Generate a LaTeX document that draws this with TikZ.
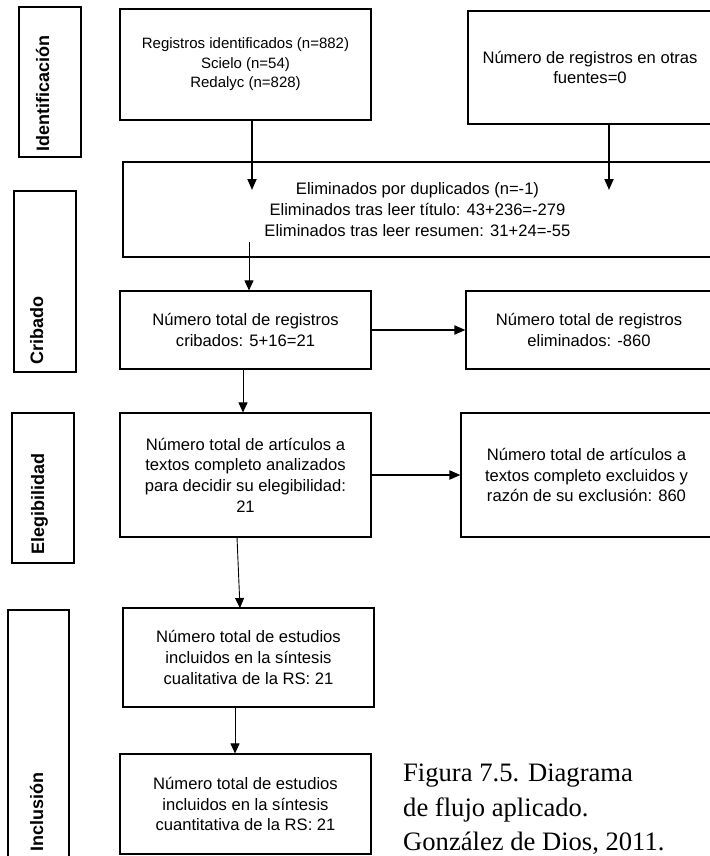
\documentclass[tikz,border=0pt]{standalone}
\usepackage{fontspec}
\setmainfont{Liberation Sans}
\newfontfamily\capfont{Liberation Serif}
\usetikzlibrary{arrows.meta}

\tikzset{
  box/.style={draw, line width=1.1pt, inner sep=0pt, align=center,
    font=\fontsize{16.6}{20.7}\selectfont},
  stagebox/.style={draw, line width=1.1pt, inner sep=0pt},
  stagelbl/.style={rotate=90, anchor=base west, inner sep=0pt,
    font=\fontsize{18}{20}\selectfont\bfseries},
  fatarrow/.style={line width=1.8pt, -{Triangle[length=11pt,width=9pt]}},
  slimarrow/.style={line width=0.9pt, -{Triangle[length=10pt,width=9pt]}},
  capline/.style={anchor=base west, inner sep=0pt,
    font=\capfont\fontsize{26.6}{35}\selectfont},
}

\begin{document}
\begin{tikzpicture}[x=1pt, y=-1pt]
\useasboundingbox (0,0) rectangle (709,856);

% stage boxes on the left
\node[stagebox, minimum width=62, minimum height=150] (sIdent) at (50,82) {};
\node[stagebox, minimum width=62, minimum height=181] (sCrib) at (45,281.5) {};
\node[stagebox, minimum width=62, minimum height=150] (sEleg) at (43,488) {};
\node[stagebox, minimum width=61, minimum height=260] (sIncl) at (38.5,740) {};
\node[stagelbl] (lIdent) at (49,152) {Identificación};
\node[stagelbl] (lCrib) at (43,365) {Cribado};
\node[stagelbl] (lEleg) at (44,555) {Elegibilidad};
\node[stagelbl] (lIncl) at (43,852) {Inclusión};

% flow boxes
\node[box, minimum width=251, minimum height=111,
  font=\fontsize{15}{19.5}\selectfont] (regs) at (245.5,64.5)
  {Registros identificados (n=882)\\ Scielo (n=54)\\ Redalyc (n=828)};
\node[box, minimum width=244, minimum height=113] (otras) at (590,67.5)
  {Número de registros en otras\\ fuentes=0};
\node[box, minimum width=589, minimum height=95] (elim) at (417.5,209.5)
  {Eliminados por duplicados (n=-1)\\ Eliminados tras leer título: 43+236=-279\\
   Eliminados tras leer resumen: 31+24=-55};
\node[box, minimum width=251, minimum height=78] (crib) at (245.5,330)
  {Número total de registros\\ cribados: 5+16=21};
\node[box, minimum width=246, minimum height=78] (quit) at (589,330)
  {Número total de registros\\ eliminados: -860};
\node[box, minimum width=251, minimum height=124] (eleg) at (245.5,475)
  {Número total de artículos a\\ textos completo analizados\\
   para decidir su elegibilidad:\\ 21};
\node[box, minimum width=251, minimum height=124] (excl) at (586.5,475)
  {Número total de artículos a\\ textos completo excluidos y\\
   razón de su exclusión: 860};
\node[box, minimum width=251, minimum height=99] (cual) at (248.5,657.5)
  {Número total de estudios\\ incluidos en la síntesis\\ cualitativa de la RS: 21};
\node[box, minimum width=251, minimum height=100] (cuan) at (245.5,804)
  {Número total de estudios\\ incluidos en la síntesis\\ cuantitativa de la RS: 21};

% free ends of the connectors
\coordinate (tipA) at (252,190);
\coordinate (tipB) at (609,190);
\coordinate (srcC) at (249,242);
\coordinate (srcF) at (237,537);
\coordinate (tipH) at (240,608);

\draw[fatarrow] (regs.south -| tipA) -- (tipA);
\draw[fatarrow] (otras.south -| tipB) -- (tipB);
\draw[slimarrow] (srcC) -- (srcC |- crib.north);
\draw[fatarrow] (crib.east) -- (quit.west);
\draw[slimarrow] ([xshift=-2.5pt]crib.south) -- ([xshift=-2.5pt]eleg.north);
\draw[fatarrow] (eleg.east) -- (excl.west);
\draw[slimarrow] (srcF) -- (tipH);
\draw[slimarrow] ([xshift=-13.5pt]cual.south) -- ([xshift=-10.5pt]cuan.north);

% caption
\node[capline] (cap1) at (403,781) {Figura 7.5. Diagrama};
\node[capline] (cap2) at (403,816) {de flujo aplicado.};
\node[capline] (cap3) at (403,850) {González de Dios, 2011.};
\end{tikzpicture}
\end{document}
